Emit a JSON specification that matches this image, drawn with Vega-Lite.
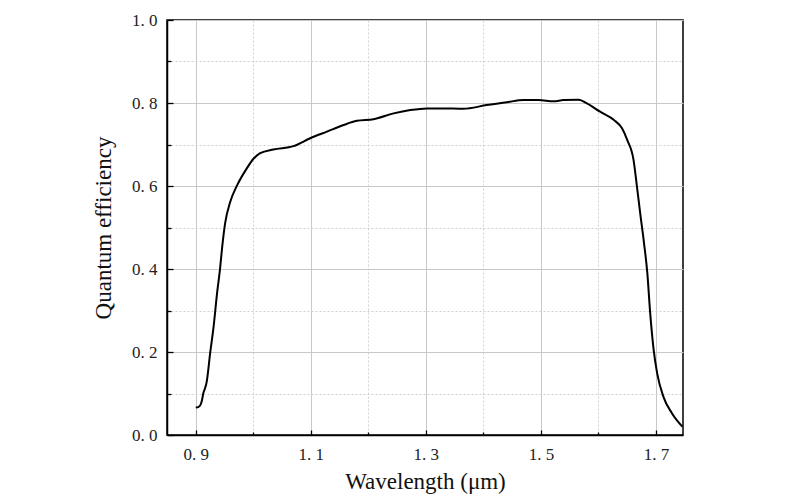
{
  "$schema": "https://vega.github.io/schema/vega-lite/v6.json",
  "autosize": {"type": "none"},
  "padding": {"left": 167, "top": 20, "right": 117, "bottom": 65},
  "width": 516,
  "height": 415,
  "background": "white",
  "config": {
    "view": {"stroke": "black", "strokeWidth": 1.5},
    "font": "Liberation Serif",
    "axis": {
      "labelFont": "Liberation Serif",
      "titleFont": "Liberation Serif",
      "labelFontSize": 17,
      "titleFontSize": 23,
      "titleFontWeight": "normal",
      "labelColor": "#222",
      "titleColor": "#111",
      "domainColor": "black",
      "domainWidth": 1.5,
      "tickColor": "black",
      "tickWidth": 1.3
    }
  },
  "data": {"values": [
    {"w": 0.900, "qe": 0.066},
    {"w": 0.905, "qe": 0.068},
    {"w": 0.908, "qe": 0.072},
    {"w": 0.911, "qe": 0.085},
    {"w": 0.913, "qe": 0.100},
    {"w": 0.916, "qe": 0.112},
    {"w": 0.919, "qe": 0.128},
    {"w": 0.925, "qe": 0.197},
    {"w": 0.931, "qe": 0.261},
    {"w": 0.937, "qe": 0.341},
    {"w": 0.942, "qe": 0.398},
    {"w": 0.946, "qe": 0.454},
    {"w": 0.951, "qe": 0.510},
    {"w": 0.960, "qe": 0.562},
    {"w": 0.972, "qe": 0.602},
    {"w": 0.989, "qe": 0.643},
    {"w": 1.000, "qe": 0.665},
    {"w": 1.012, "qe": 0.679},
    {"w": 1.035, "qe": 0.688},
    {"w": 1.070, "qe": 0.696},
    {"w": 1.099, "qe": 0.715},
    {"w": 1.128, "qe": 0.731},
    {"w": 1.157, "qe": 0.747},
    {"w": 1.180, "qe": 0.757},
    {"w": 1.209, "qe": 0.761},
    {"w": 1.244, "qe": 0.775},
    {"w": 1.273, "qe": 0.783},
    {"w": 1.302, "qe": 0.787},
    {"w": 1.330, "qe": 0.787},
    {"w": 1.365, "qe": 0.786},
    {"w": 1.406, "qe": 0.795},
    {"w": 1.441, "qe": 0.802},
    {"w": 1.470, "qe": 0.807},
    {"w": 1.496, "qe": 0.807},
    {"w": 1.522, "qe": 0.804},
    {"w": 1.539, "qe": 0.807},
    {"w": 1.566, "qe": 0.808},
    {"w": 1.580, "qe": 0.799},
    {"w": 1.603, "qe": 0.779},
    {"w": 1.627, "qe": 0.759},
    {"w": 1.641, "qe": 0.739},
    {"w": 1.650, "qe": 0.711},
    {"w": 1.661, "qe": 0.663},
    {"w": 1.667, "qe": 0.598},
    {"w": 1.673, "qe": 0.530},
    {"w": 1.679, "qe": 0.465},
    {"w": 1.685, "qe": 0.390},
    {"w": 1.690, "qe": 0.293},
    {"w": 1.696, "qe": 0.205},
    {"w": 1.702, "qe": 0.149},
    {"w": 1.713, "qe": 0.092},
    {"w": 1.728, "qe": 0.052},
    {"w": 1.746, "qe": 0.020}
  ]},
  "layer": [
    {
      "mark": {"type": "line", "strokeOpacity": 0},
      "encoding": {
        "x": {"field": "w", "type": "quantitative", "scale": {"domain": [0.85, 1.747], "nice": false, "zero": false},
          "axis": {"orient": "bottom", "values": [1.0, 1.2, 1.4, 1.6], "labels": false, "title": null, "domain": false,
            "tickSize": -3, "grid": true, "gridColor": "#d0d0d0", "gridDash": [2, 2], "gridWidth": 1}},
        "y": {"field": "qe", "type": "quantitative", "scale": {"domain": [0, 1], "nice": false},
          "axis": {"orient": "left", "values": [0.1, 0.3, 0.5, 0.7, 0.9], "labels": false, "title": null, "domain": false,
            "tickSize": -4, "grid": true, "gridColor": "#d0d0d0", "gridDash": [2, 2], "gridWidth": 1}}
      }
    },
    {
      "mark": {"type": "line", "color": "black", "strokeWidth": 2, "interpolate": "monotone"},
      "encoding": {
        "x": {"field": "w", "type": "quantitative", "scale": {"domain": [0.85, 1.747], "nice": false, "zero": false},
          "axis": {"orient": "bottom", "values": [0.9, 1.1, 1.3, 1.5, 1.7], "title": "Wavelength (μm)",
            "labelExpr": "replace(format(datum.value, '.1f'), '.', '. ')", "tickSize": -5, "labelPadding": 16, "titlePadding": 8,
            "grid": true, "gridColor": "#c8c8c8", "gridWidth": 1}},
        "y": {"field": "qe", "type": "quantitative", "scale": {"domain": [0, 1], "nice": false},
          "axis": {"orient": "left", "values": [0, 0.2, 0.4, 0.6, 0.8, 1.0], "title": "Quantum efficiency",
            "labelExpr": "replace(format(datum.value, '.1f'), '.', '. ')", "tickSize": -6, "labelPadding": 16, "titlePadding": 16,
            "grid": true, "gridColor": "#c8c8c8", "gridWidth": 1}}
      }
    }
  ],
  "resolve": {"axis": {"x": "independent", "y": "independent"}}
}
